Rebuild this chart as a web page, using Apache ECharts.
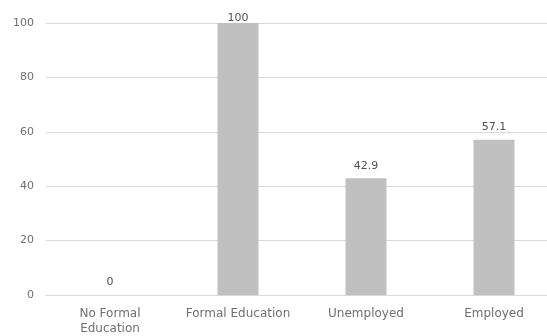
<!DOCTYPE html>
<html>
<head>
<meta charset="utf-8">
<script src="https://cdn.jsdelivr.net/npm/echarts@6/dist/echarts.min.js"></script>
<style>
html,body{margin:0;padding:0;background:#fff;}
#chart{width:547px;height:336px;}
</style>
</head>
<body>
<div id="chart"></div>
<script>
const categories = ['No Formal\nEducation', 'Formal Education', 'Unemployed', 'Employed'];
const values = [0, 100, 42.9, 57.1];
const yTicks = [0, 20, 40, 60, 80, 100];

const chart = echarts.init(document.getElementById('chart'), null, {renderer: 'canvas'});
const font = '"DejaVu Sans", sans-serif';
chart.setOption({
  animation: false,
  grid: {left: 46, top: 23, right: -11, bottom: 41, containLabel: false, outerBoundsMode: 'none'},
  xAxis: {
    type: 'category',
    data: categories,
    axisLine: {show: true, lineStyle: {color: '#d9d9d9'}},
    axisTick: {show: false},
    axisLabel: {color: '#6f6f6f', fontFamily: font, fontSize: 12, margin: 11, lineHeight: 15, interval: 0}
  },
  yAxis: {
    type: 'value',
    min: yTicks[0],
    max: yTicks[yTicks.length - 1],
    interval: 20,
    axisLine: {show: false},
    axisTick: {show: false},
    splitLine: {lineStyle: {color: '#d9d9d9'}},
    axisLabel: {color: '#6f6f6f', fontFamily: font, fontSize: 11, margin: 12}
  },
  series: [{
    type: 'bar',
    data: values.map(v => v === 100 ? {value: v, label: {distance: -1}} : v),
    barWidth: 41,
    itemStyle: {color: '#c0c0c0'},
    label: {show: true, position: 'top', distance: 7, color: '#505050', fontFamily: font, fontSize: 11}
  }]
});
</script>
</body>
</html>
